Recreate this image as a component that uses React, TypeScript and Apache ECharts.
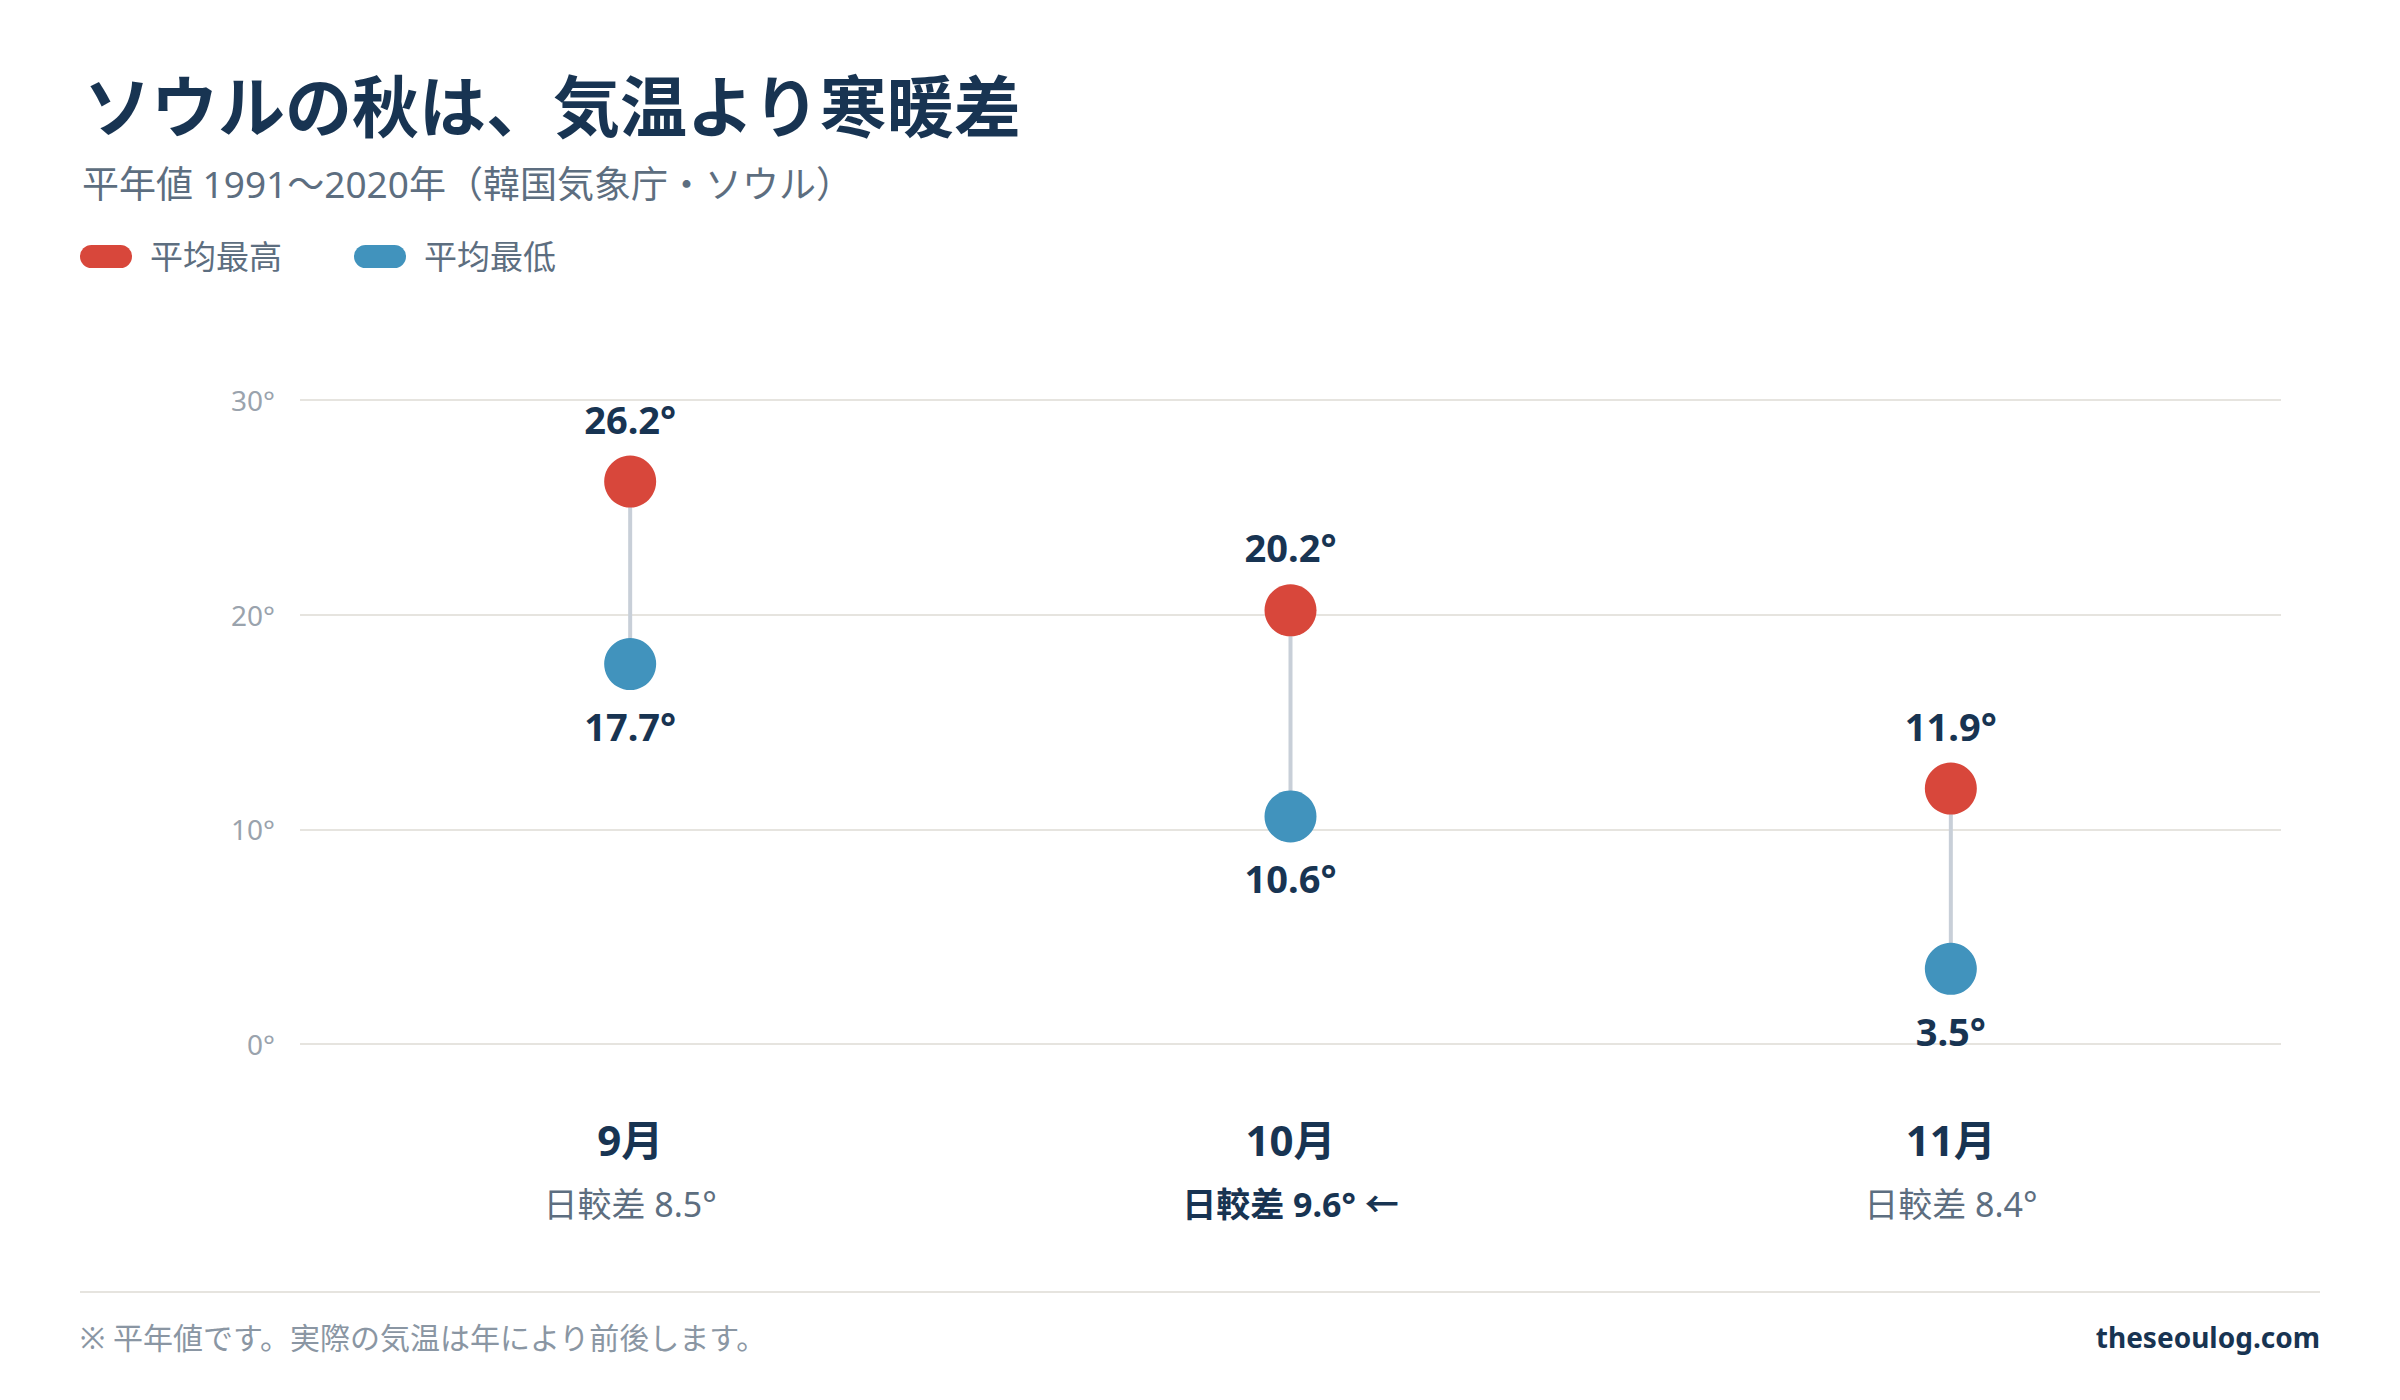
import React from 'react';
import * as echarts from 'echarts';

// 平年値 1991〜2020（韓国気象庁・ソウル）
const months = ['9月', '10月', '11月'];
const highs = [26.2, 20.2, 11.9];
const lows = [17.7, 10.6, 3.5];
const yTicks = { min: 0, max: 30, step: 10 };

const titleText = 'ソウルの秋は、気温より寒暖差';
const subtitleText = '平年値 1991〜2020年（韓国気象庁・ソウル）';
const noteText = '※ 平年値です。実際の気温は年により前後します。';
const siteText = 'theseoulog.com';

const RED = '#d8473b';
const BLUE = '#4193bd';
const DARK = '#183452';
const GRAY = '#5d6e80';
const FONT = "'Noto Sans', 'Noto Sans CJK SC', sans-serif";

const PILL = 'path://M11.5,0 H40.5 A11.5,11.5 0 0 1 40.5,23 H11.5 A11.5,11.5 0 0 1 11.5,0 Z';

const App: React.FC = () => {
  const chartRef = React.useRef<HTMLDivElement>(null);

  React.useEffect(() => {
    if (!chartRef.current) return;
    document.body.style.margin = '0';

    const chart = echarts.init(chartRef.current, undefined, { renderer: 'svg' });

    const ranges = highs.map((h, i) => h - lows[i]);
    const widest = ranges.indexOf(Math.max(...ranges));

    const option = {
      animation: false,
      backgroundColor: '#ffffff',
      textStyle: { fontFamily: FONT },
      grid: { left: 300, right: 119, top: 400, bottom: 356 },
      legend: {
        left: 80,
        top: 240,
        padding: 0,
        icon: PILL,
        itemWidth: 52,
        itemHeight: 23,
        itemGap: 72,
        textStyle: { fontSize: 33, color: GRAY, fontFamily: FONT, padding: [0, 0, 0, 13] },
        data: ['平均最高', '平均最低'],
      },
      xAxis: {
        type: 'category',
        data: months,
        axisLine: { show: false },
        axisTick: { show: false },
        splitLine: { show: false },
        axisLabel: {
          interval: 0,
          margin: 64,
          formatter: (value: string, index: number) => {
            const tag = index === widest ? 'dh' : 'd';
            const arrow = index === widest ? ' ←' : '';
            return `{m|${value}}\n{${tag}|日較差 ${ranges[index].toFixed(1)}°${arrow}}`;
          },
          rich: {
            m: { fontSize: 42, fontWeight: 'bold', color: DARK, lineHeight: 62, fontFamily: FONT },
            d: { fontSize: 34, color: GRAY, lineHeight: 68, fontFamily: FONT },
            dh: { fontSize: 34, fontWeight: 'bold', color: DARK, lineHeight: 68, fontFamily: FONT },
          },
        },
      },
      yAxis: {
        type: 'value',
        min: yTicks.min,
        max: yTicks.max,
        interval: yTicks.step,
        axisLine: { show: false },
        axisTick: { show: false },
        axisLabel: { formatter: '{value}°', color: '#9aa3ad', fontSize: 28, margin: 25, fontFamily: FONT },
        splitLine: { lineStyle: { color: '#e6e4df', width: 2 } },
      },
      series: [
        {
          type: 'custom',
          name: 'range',
          z: 1,
          data: months.map((_, i) => [i, lows[i], highs[i]]),
          encode: { x: 0, y: [1, 2] },
          renderItem: (_params: any, api: any) => {
            const top = api.coord([api.value(0), api.value(2)]);
            const bottom = api.coord([api.value(0), api.value(1)]);
            return {
              type: 'line',
              shape: { x1: top[0], y1: top[1], x2: bottom[0], y2: bottom[1] },
              style: { stroke: '#c8cfd8', lineWidth: 4 },
            };
          },
        },
        {
          type: 'scatter',
          name: '平均最高',
          z: 3,
          data: highs,
          symbolSize: 52,
          itemStyle: { color: RED, opacity: 1 },
          label: {
            show: true,
            position: 'top',
            distance: 17,
            formatter: (p: any) => `${Number(p.value).toFixed(1)}°`,
            fontSize: 38,
            fontWeight: 'bold',
            color: DARK,
            lineHeight: 40,
            fontFamily: FONT,
          },
        },
        {
          type: 'scatter',
          name: '平均最低',
          z: 3,
          data: lows,
          symbolSize: 52,
          itemStyle: { color: BLUE, opacity: 1 },
          label: {
            show: true,
            position: 'bottom',
            distance: 16,
            formatter: (p: any) => `${Number(p.value).toFixed(1)}°`,
            fontSize: 38,
            fontWeight: 'bold',
            color: DARK,
            lineHeight: 40,
            fontFamily: FONT,
          },
        },
      ],
      graphic: [
        {
          type: 'text',
          x: 84,
          y: 106,
          style: {
            text: titleText,
            fontSize: 67,
            fontWeight: 'bold',
            fill: DARK,
            fontFamily: FONT,
            verticalAlign: 'middle',
          },
        },
        {
          type: 'text',
          x: 82,
          y: 183,
          style: {
            text: subtitleText,
            fontSize: 37,
            fill: GRAY,
            fontFamily: FONT,
            verticalAlign: 'middle',
          },
        },
        {
          type: 'line',
          shape: { x1: 80, y1: 1292, x2: 2320, y2: 1292 },
          style: { stroke: '#e6e4df', lineWidth: 2 },
        },
        {
          type: 'text',
          x: 80,
          y: 1337,
          style: {
            text: noteText,
            fontSize: 30,
            fill: '#8a96a3',
            fontFamily: FONT,
            verticalAlign: 'middle',
          },
        },
        {
          type: 'text',
          x: 2320,
          y: 1337,
          style: {
            text: siteText,
            fontSize: 28,
            fontWeight: 'bold',
            fill: DARK,
            fontFamily: FONT,
            align: 'right',
            verticalAlign: 'middle',
          },
        },
      ],
    };

    chart.setOption(option);

    return () => {
      chart.dispose();
    };
  }, []);

  return <div ref={chartRef} style={{ width: '2400px', height: '1400px' }} />;
};

export default App;
